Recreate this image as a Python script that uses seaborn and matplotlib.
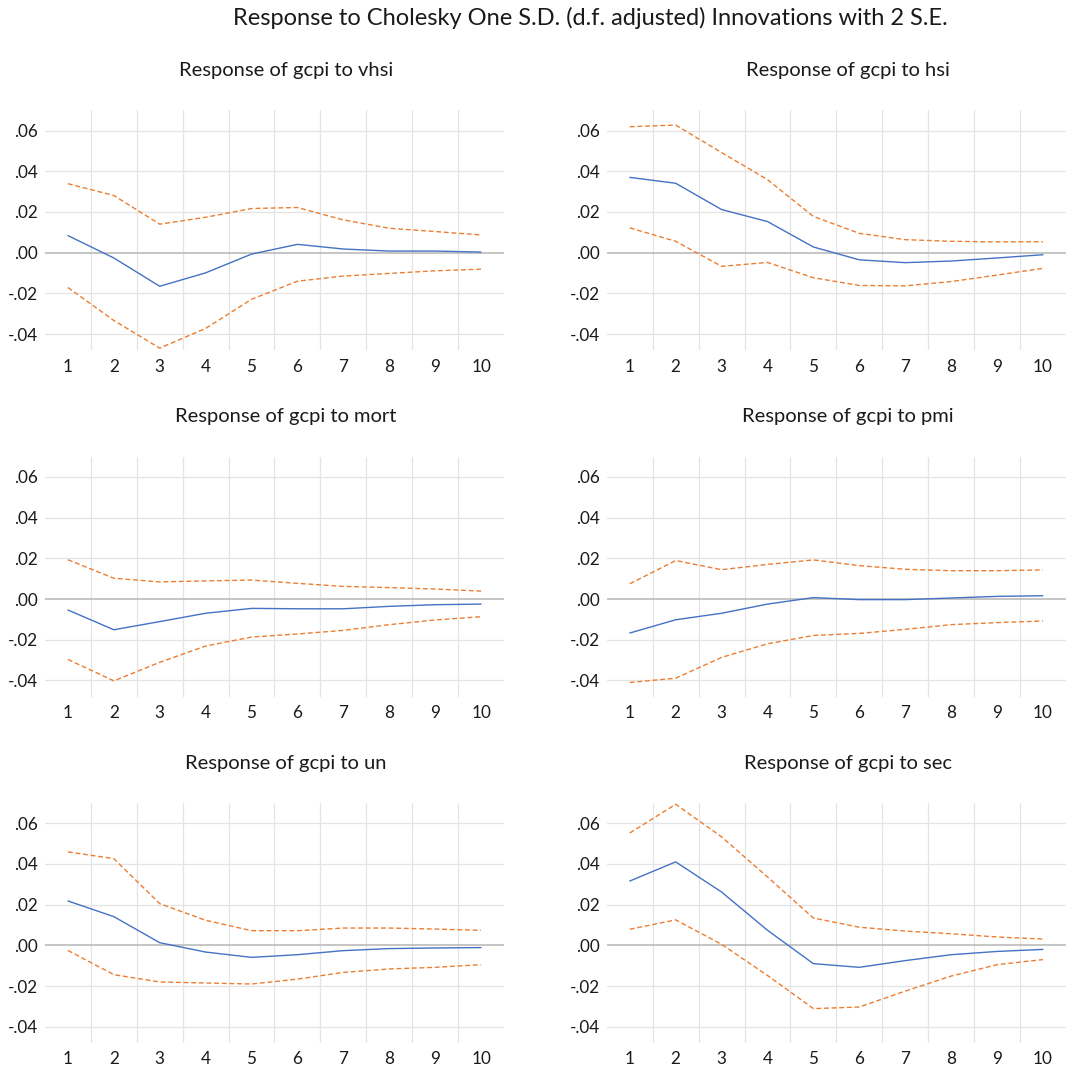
import seaborn as sns
import matplotlib.pyplot as plt
import pandas as pd
from matplotlib import ticker

steps = list(range(1, 11))
shocks = ['vhsi', 'hsi', 'mort', 'pmi', 'un', 'sec']

# impulse responses of gcpi (point estimate, +2 S.E., -2 S.E.)
vhsi_resp = [0.0084, -0.0026, -0.0165, -0.0099, -0.0007, 0.0041, 0.0018, 0.0008, 0.0008, 0.0003]
vhsi_hi = [0.0339, 0.0281, 0.0140, 0.0174, 0.0217, 0.0222, 0.0161, 0.0120, 0.0104, 0.0087]
vhsi_lo = [-0.0171, -0.0333, -0.0469, -0.0372, -0.0229, -0.0140, -0.0115, -0.0102, -0.0089, -0.0081]

hsi_resp = [0.0370, 0.0341, 0.0212, 0.0153, 0.0028, -0.0035, -0.0049, -0.0041, -0.0026, -0.0010]
hsi_hi = [0.0619, 0.0627, 0.0492, 0.0359, 0.0178, 0.0095, 0.0064, 0.0056, 0.0053, 0.0054]
hsi_lo = [0.0122, 0.0056, -0.0067, -0.0048, -0.0123, -0.0161, -0.0163, -0.0142, -0.0110, -0.0077]

mort_resp = [-0.0054, -0.0151, -0.0111, -0.0070, -0.0046, -0.0048, -0.0048, -0.0036, -0.0028, -0.0025]
mort_hi = [0.0193, 0.0102, 0.0084, 0.0089, 0.0093, 0.0077, 0.0062, 0.0056, 0.0049, 0.0039]
mort_lo = [-0.0297, -0.0402, -0.0311, -0.0231, -0.0187, -0.0172, -0.0154, -0.0126, -0.0103, -0.0087]

pmi_resp = [-0.0167, -0.0102, -0.0070, -0.0025, 0.0007, -0.0003, -0.0003, 0.0005, 0.0013, 0.0016]
pmi_hi = [0.0075, 0.0189, 0.0144, 0.0170, 0.0192, 0.0164, 0.0146, 0.0139, 0.0139, 0.0143]
pmi_lo = [-0.0410, -0.0389, -0.0287, -0.0220, -0.0179, -0.0169, -0.0149, -0.0126, -0.0116, -0.0108]

un_resp = [0.0218, 0.0141, 0.0013, -0.0033, -0.0059, -0.0046, -0.0026, -0.0016, -0.0013, -0.0011]
un_hi = [0.0459, 0.0426, 0.0205, 0.0123, 0.0072, 0.0072, 0.0085, 0.0085, 0.0080, 0.0074]
un_lo = [-0.0025, -0.0144, -0.0180, -0.0185, -0.0190, -0.0166, -0.0133, -0.0116, -0.0108, -0.0095]

sec_resp = [0.0316, 0.0410, 0.0262, 0.0074, -0.0090, -0.0108, -0.0075, -0.0046, -0.0030, -0.0020]
sec_hi = [0.0552, 0.0693, 0.0533, 0.0336, 0.0134, 0.0089, 0.0070, 0.0057, 0.0041, 0.0031]
sec_lo = [0.0079, 0.0125, 0.0005, -0.0148, -0.0311, -0.0303, -0.0225, -0.0151, -0.0095, -0.0070]

series = {
    'vhsi': (vhsi_resp, vhsi_hi, vhsi_lo),
    'hsi': (hsi_resp, hsi_hi, hsi_lo),
    'mort': (mort_resp, mort_hi, mort_lo),
    'pmi': (pmi_resp, pmi_hi, pmi_lo),
    'un': (un_resp, un_hi, un_lo),
    'sec': (sec_resp, sec_hi, sec_lo),
}

sns.set_style("white")
plt.rcParams['font.family'] = ['Lato', 'DejaVu Sans']

fig, axes = plt.subplots(3, 2, figsize=(10.81, 10.70), dpi=100)
plt.subplots_adjust(left=0.0416, right=0.986, top=0.897, bottom=0.0252,
                    wspace=0.224, hspace=0.442)

blue = '#4472C4'
orange = '#ED7D31'

for ax, shock in zip(axes.flat, shocks):
    resp, hi, lo = series[shock]
    df = pd.DataFrame({'step': steps, 'resp': resp, 'hi': hi, 'lo': lo})

    # grid first so the lines sit on top
    for yv in [-0.04, -0.02, 0.02, 0.04, 0.06]:
        ax.axhline(yv, color='#e4e4e4', lw=0.9, zorder=0)
    for xv in [s + 0.5 for s in steps[:-1]]:
        ax.axvline(xv, color='#e4e4e4', lw=0.9, zorder=0)
    ax.axhline(0, color='#c0c0c0', lw=1.3, zorder=1)

    sns.lineplot(data=df, x='step', y='hi', ax=ax, color=orange, lw=1.0,
                 linestyle=(0, (3.5, 2)), zorder=3)
    sns.lineplot(data=df, x='step', y='lo', ax=ax, color=orange, lw=1.0,
                 linestyle=(0, (3.5, 2)), zorder=3)
    sns.lineplot(data=df, x='step', y='resp', ax=ax, color=blue, lw=1.0, zorder=4)

    ax.set_xlim(0.5, 10.5)
    ax.set_ylim(-0.048, 0.07)
    ax.set_xticks(steps)
    ax.set_yticks([-0.04, -0.02, 0.0, 0.02, 0.04, 0.06])
    ax.yaxis.set_major_formatter(ticker.FuncFormatter(
        lambda v, p: ('-' if v < -1e-9 else '') + ('%.2f' % abs(v))[1:]))
    ax.tick_params(axis='both', length=0, labelsize=12.3, colors='#1a1a1a')
    ax.tick_params(axis='y', pad=5)
    ax.tick_params(axis='x', pad=6)
    ax.set_xlabel('')
    ax.set_ylabel('')
    sns.despine(ax=ax, left=True, bottom=True)

    ax.text(0.525, 1.165, f'Response of gcpi to {shock}', transform=ax.transAxes,
            ha='center', va='center', fontsize=14.5, color='#1a1a1a')

fig.text(590 / 1081, 1 - 18 / 1070,
         'Response to Cholesky One S.D. (d.f. adjusted) Innovations with 2 S.E.',
         ha='center', va='center', fontsize=17, color='#1a1a1a')

plt.savefig('out.png', dpi=100)
